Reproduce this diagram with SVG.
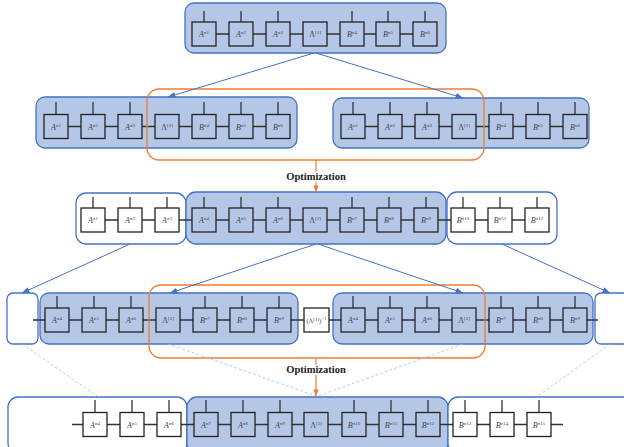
<svg xmlns="http://www.w3.org/2000/svg" width="624" height="447" viewBox="0 0 624 447">
<defs>
<style>
.bg{fill:#ffffff}
.blk{fill:#b4c7e7;stroke:#4472c4;stroke-width:1.3}
.wblk{fill:#ffffff;stroke:#4472c4;stroke-width:1.3}
.sel{fill:none;stroke:#ed7d31;stroke-width:1.3}
.bond{stroke:#333333;stroke-width:1.3;fill:none}
.nb{fill:#b4c7e7;stroke:#222222;stroke-width:1.3}
.nw{fill:#ffffff;stroke:#222222;stroke-width:1.3}
.lbl{font-family:"Liberation Serif",serif;font-size:8px;fill:#444444;text-anchor:middle}
.it{font-style:italic}
.sup{font-size:5px}
.arr{stroke:#4472c4;stroke-width:1;fill:none;marker-end:url(#ab)}
.oarr{stroke:#ed7d31;stroke-width:1.2;fill:none;marker-end:url(#ao)}
.dash{stroke:#9dc3e6;stroke-width:0.8;stroke-dasharray:3 2;fill:none}
.opt{font-family:"Liberation Serif",serif;font-weight:bold;font-size:10.5px;fill:#222222;text-anchor:middle;stroke:#ffffff;stroke-width:3;paint-order:stroke;stroke-linejoin:round}
</style>
<marker id="ab" viewBox="0 0 8 6" refX="7.5" refY="3" markerWidth="8" markerHeight="6" markerUnits="userSpaceOnUse" orient="auto"><path d="M0,0 L8,3 L0,6 Z" fill="#4472c4"/></marker>
<marker id="ao" viewBox="0 0 8 6" refX="7.5" refY="3" markerWidth="7" markerHeight="6" markerUnits="userSpaceOnUse" orient="auto"><path d="M0,0 L8,3 L0,6 Z" fill="#ed7d31"/></marker>
</defs>
<rect class="bg" x="0" y="0" width="624" height="447"/>

<!-- block backgrounds -->
<g id="blocks">
<rect class="blk" x="185" y="3" width="261" height="50" rx="9"/>
<rect class="blk" x="36" y="97" width="261" height="51" rx="9"/>
<rect class="blk" x="333" y="98" width="256" height="50" rx="9"/>
<rect class="wblk" x="76" y="193" width="110" height="51" rx="10"/>
<rect class="blk" x="186" y="192" width="260" height="52" rx="10"/>
<rect class="wblk" x="447" y="192" width="110" height="52" rx="10"/>
<rect class="wblk" x="7" y="293" width="31" height="51" rx="6"/>
<rect class="blk" x="40" y="293" width="258" height="51" rx="9"/>
<rect class="blk" x="333" y="293" width="260" height="51" rx="9"/>
<rect class="wblk" x="595" y="293" width="40" height="51" rx="6"/>
<rect class="wblk" x="8" y="397" width="179" height="56" rx="10"/>
<rect class="blk" x="187" y="397" width="261" height="56" rx="10"/>
<rect class="wblk" x="448" y="397" width="190" height="56" rx="10"/>
</g>

<!-- bonds and physical legs -->
<g id="bonds" class="bond">
<path d="M204,34 H425 M204,22 V11 M241,22 V11 M278,22 V11 M352,22 V11 M388,22 V11 M425,22 V11"/>
<path d="M56,126.5 H278 M56,114.5 V102 M93,114.5 V102 M130,114.5 V102 M204,114.5 V102 M241,114.5 V102 M278,114.5 V102"/>
<path d="M353,126.5 H575 M353,114.5 V102 M390,114.5 V102 M427,114.5 V102 M501,114.5 V102 M538,114.5 V102 M575,114.5 V102"/>
<path d="M93,220 H537 M93,208 V197 M130,208 V197 M167,208 V197 M204,208 V197 M241,208 V197 M278,208 V197 M352,208 V197 M389,208 V197 M426,208 V197 M463,208 V197 M500,208 V197 M537,208 V197"/>
<path d="M33,320 H598 M57,308 V296 M94,308 V296 M131,308 V296 M205,308 V296 M242,308 V296 M279,308 V296 M353,308 V296 M390,308 V296 M427,308 V296 M501,308 V296 M538,308 V296 M575,308 V296"/>
<path d="M72,424.5 H563 M95,412.5 V400 M132,412.5 V400 M169,412.5 V400 M206,412.5 V400 M243,412.5 V400 M280,412.5 V400 M354,412.5 V400 M391,412.5 V400 M428,412.5 V400 M465,412.5 V400 M502,412.5 V400 M539,412.5 V400"/>
</g>

<!-- row 1 -->
<g id="r1n1"><rect class="nb" x="192" y="22" width="24" height="24"/><text class="lbl" x="204" y="37"><tspan class="it">A</tspan><tspan class="sup" dy="-3">σ1</tspan></text></g>
<g id="r1n2"><rect class="nb" x="229" y="22" width="24" height="24"/><text class="lbl" x="241" y="37"><tspan class="it">A</tspan><tspan class="sup" dy="-3">σ2</tspan></text></g>
<g id="r1n3"><rect class="nb" x="266" y="22" width="24" height="24"/><text class="lbl" x="278" y="37"><tspan class="it">A</tspan><tspan class="sup" dy="-3">σ3</tspan></text></g>
<g id="r1n4"><rect class="nb" x="303" y="22" width="24" height="24"/><text class="lbl" x="315" y="37">Λ<tspan class="sup" dy="-3">[1]</tspan></text></g>
<g id="r1n5"><rect class="nb" x="340" y="22" width="24" height="24"/><text class="lbl" x="352" y="37"><tspan class="it">B</tspan><tspan class="sup" dy="-3">σ4</tspan></text></g>
<g id="r1n6"><rect class="nb" x="376" y="22" width="24" height="24"/><text class="lbl" x="388" y="37"><tspan class="it">B</tspan><tspan class="sup" dy="-3">σ5</tspan></text></g>
<g id="r1n7"><rect class="nb" x="413" y="22" width="24" height="24"/><text class="lbl" x="425" y="37"><tspan class="it">B</tspan><tspan class="sup" dy="-3">σ6</tspan></text></g>

<!-- row 2, left copy -->
<g id="r2an1"><rect class="nb" x="44" y="114.5" width="24" height="24"/><text class="lbl" x="56" y="129.5"><tspan class="it">A</tspan><tspan class="sup" dy="-3">σ1</tspan></text></g>
<g id="r2an2"><rect class="nb" x="81" y="114.5" width="24" height="24"/><text class="lbl" x="93" y="129.5"><tspan class="it">A</tspan><tspan class="sup" dy="-3">σ2</tspan></text></g>
<g id="r2an3"><rect class="nb" x="118" y="114.5" width="24" height="24"/><text class="lbl" x="130" y="129.5"><tspan class="it">A</tspan><tspan class="sup" dy="-3">σ3</tspan></text></g>
<g id="r2an4"><rect class="nb" x="155" y="114.5" width="24" height="24"/><text class="lbl" x="167" y="129.5">Λ<tspan class="sup" dy="-3">[1]</tspan></text></g>
<g id="r2an5"><rect class="nb" x="192" y="114.5" width="24" height="24"/><text class="lbl" x="204" y="129.5"><tspan class="it">B</tspan><tspan class="sup" dy="-3">σ4</tspan></text></g>
<g id="r2an6"><rect class="nb" x="229" y="114.5" width="24" height="24"/><text class="lbl" x="241" y="129.5"><tspan class="it">B</tspan><tspan class="sup" dy="-3">σ5</tspan></text></g>
<g id="r2an7"><rect class="nb" x="266" y="114.5" width="24" height="24"/><text class="lbl" x="278" y="129.5"><tspan class="it">B</tspan><tspan class="sup" dy="-3">σ6</tspan></text></g>

<!-- row 2, right copy -->
<g id="r2bn1"><rect class="nb" x="341" y="114.5" width="24" height="24"/><text class="lbl" x="353" y="129.5"><tspan class="it">A</tspan><tspan class="sup" dy="-3">σ1</tspan></text></g>
<g id="r2bn2"><rect class="nb" x="378" y="114.5" width="24" height="24"/><text class="lbl" x="390" y="129.5"><tspan class="it">A</tspan><tspan class="sup" dy="-3">σ2</tspan></text></g>
<g id="r2bn3"><rect class="nb" x="415" y="114.5" width="24" height="24"/><text class="lbl" x="427" y="129.5"><tspan class="it">A</tspan><tspan class="sup" dy="-3">σ3</tspan></text></g>
<g id="r2bn4"><rect class="nb" x="452" y="114.5" width="24" height="24"/><text class="lbl" x="464" y="129.5">Λ<tspan class="sup" dy="-3">[1]</tspan></text></g>
<g id="r2bn5"><rect class="nb" x="489" y="114.5" width="24" height="24"/><text class="lbl" x="501" y="129.5"><tspan class="it">B</tspan><tspan class="sup" dy="-3">σ4</tspan></text></g>
<g id="r2bn6"><rect class="nb" x="526" y="114.5" width="24" height="24"/><text class="lbl" x="538" y="129.5"><tspan class="it">B</tspan><tspan class="sup" dy="-3">σ5</tspan></text></g>
<g id="r2bn7"><rect class="nb" x="563" y="114.5" width="24" height="24"/><text class="lbl" x="575" y="129.5"><tspan class="it">B</tspan><tspan class="sup" dy="-3">σ6</tspan></text></g>

<!-- row 3 -->
<g id="r3n1"><rect class="nw" x="81" y="208" width="24" height="24"/><text class="lbl" x="93" y="223"><tspan class="it">A</tspan><tspan class="sup" dy="-3">σ1</tspan></text></g>
<g id="r3n2"><rect class="nw" x="118" y="208" width="24" height="24"/><text class="lbl" x="130" y="223"><tspan class="it">A</tspan><tspan class="sup" dy="-3">σ2</tspan></text></g>
<g id="r3n3"><rect class="nw" x="155" y="208" width="24" height="24"/><text class="lbl" x="167" y="223"><tspan class="it">A</tspan><tspan class="sup" dy="-3">σ3</tspan></text></g>
<g id="r3n4"><rect class="nb" x="192" y="208" width="24" height="24"/><text class="lbl" x="204" y="223"><tspan class="it">A</tspan><tspan class="sup" dy="-3">σ4</tspan></text></g>
<g id="r3n5"><rect class="nb" x="229" y="208" width="24" height="24"/><text class="lbl" x="241" y="223"><tspan class="it">A</tspan><tspan class="sup" dy="-3">σ5</tspan></text></g>
<g id="r3n6"><rect class="nb" x="266" y="208" width="24" height="24"/><text class="lbl" x="278" y="223"><tspan class="it">A</tspan><tspan class="sup" dy="-3">σ6</tspan></text></g>
<g id="r3n7"><rect class="nb" x="303" y="208" width="24" height="24"/><text class="lbl" x="315" y="223">Λ<tspan class="sup" dy="-3">[2]</tspan></text></g>
<g id="r3n8"><rect class="nb" x="340" y="208" width="24" height="24"/><text class="lbl" x="352" y="223"><tspan class="it">B</tspan><tspan class="sup" dy="-3">σ7</tspan></text></g>
<g id="r3n9"><rect class="nb" x="377" y="208" width="24" height="24"/><text class="lbl" x="389" y="223"><tspan class="it">B</tspan><tspan class="sup" dy="-3">σ8</tspan></text></g>
<g id="r3n10"><rect class="nb" x="414" y="208" width="24" height="24"/><text class="lbl" x="426" y="223"><tspan class="it">B</tspan><tspan class="sup" dy="-3">σ9</tspan></text></g>
<g id="r3n11"><rect class="nw" x="451" y="208" width="24" height="24"/><text class="lbl" x="463" y="223"><tspan class="it">B</tspan><tspan class="sup" dy="-3">σ10</tspan></text></g>
<g id="r3n12"><rect class="nw" x="488" y="208" width="24" height="24"/><text class="lbl" x="500" y="223"><tspan class="it">B</tspan><tspan class="sup" dy="-3">σ11</tspan></text></g>
<g id="r3n13"><rect class="nw" x="525" y="208" width="24" height="24"/><text class="lbl" x="537" y="223"><tspan class="it">B</tspan><tspan class="sup" dy="-3">σ12</tspan></text></g>

<!-- row 4 -->
<g id="r4n1"><rect class="nb" x="45" y="308" width="24" height="24"/><text class="lbl" x="57" y="323"><tspan class="it">A</tspan><tspan class="sup" dy="-3">σ4</tspan></text></g>
<g id="r4n2"><rect class="nb" x="82" y="308" width="24" height="24"/><text class="lbl" x="94" y="323"><tspan class="it">A</tspan><tspan class="sup" dy="-3">σ5</tspan></text></g>
<g id="r4n3"><rect class="nb" x="119" y="308" width="24" height="24"/><text class="lbl" x="131" y="323"><tspan class="it">A</tspan><tspan class="sup" dy="-3">σ6</tspan></text></g>
<g id="r4n4"><rect class="nb" x="156" y="308" width="24" height="24"/><text class="lbl" x="168" y="323">Λ<tspan class="sup" dy="-3">[2]</tspan></text></g>
<g id="r4n5"><rect class="nb" x="193" y="308" width="24" height="24"/><text class="lbl" x="205" y="323"><tspan class="it">B</tspan><tspan class="sup" dy="-3">σ7</tspan></text></g>
<g id="r4n6"><rect class="nb" x="230" y="308" width="24" height="24"/><text class="lbl" x="242" y="323"><tspan class="it">B</tspan><tspan class="sup" dy="-3">σ8</tspan></text></g>
<g id="r4n7"><rect class="nb" x="267" y="308" width="24" height="24"/><text class="lbl" x="279" y="323"><tspan class="it">B</tspan><tspan class="sup" dy="-3">σ9</tspan></text></g>
<g id="r4inv"><rect class="nw" x="304" y="308" width="25" height="24"/><text class="lbl" x="316.5" y="323" style="font-size:6.5px">(Λ<tspan class="sup" dy="-2.5">[1]</tspan><tspan dy="2.5">)</tspan><tspan class="sup" dy="-3">−1</tspan></text></g>
<g id="r4n8"><rect class="nb" x="341" y="308" width="24" height="24"/><text class="lbl" x="353" y="323"><tspan class="it">A</tspan><tspan class="sup" dy="-3">σ4</tspan></text></g>
<g id="r4n9"><rect class="nb" x="378" y="308" width="24" height="24"/><text class="lbl" x="390" y="323"><tspan class="it">A</tspan><tspan class="sup" dy="-3">σ5</tspan></text></g>
<g id="r4n10"><rect class="nb" x="415" y="308" width="24" height="24"/><text class="lbl" x="427" y="323"><tspan class="it">A</tspan><tspan class="sup" dy="-3">σ6</tspan></text></g>
<g id="r4n11"><rect class="nb" x="452" y="308" width="24" height="24"/><text class="lbl" x="464" y="323">Λ<tspan class="sup" dy="-3">[2]</tspan></text></g>
<g id="r4n12"><rect class="nb" x="489" y="308" width="24" height="24"/><text class="lbl" x="501" y="323"><tspan class="it">B</tspan><tspan class="sup" dy="-3">σ7</tspan></text></g>
<g id="r4n13"><rect class="nb" x="526" y="308" width="24" height="24"/><text class="lbl" x="538" y="323"><tspan class="it">B</tspan><tspan class="sup" dy="-3">σ8</tspan></text></g>
<g id="r4n14"><rect class="nb" x="563" y="308" width="24" height="24"/><text class="lbl" x="575" y="323"><tspan class="it">B</tspan><tspan class="sup" dy="-3">σ9</tspan></text></g>

<!-- row 5 -->
<g id="r5n1"><rect class="nw" x="83" y="412.5" width="24" height="24"/><text class="lbl" x="95" y="427.5"><tspan class="it">A</tspan><tspan class="sup" dy="-3">σ4</tspan></text></g>
<g id="r5n2"><rect class="nw" x="120" y="412.5" width="24" height="24"/><text class="lbl" x="132" y="427.5"><tspan class="it">A</tspan><tspan class="sup" dy="-3">σ5</tspan></text></g>
<g id="r5n3"><rect class="nw" x="157" y="412.5" width="24" height="24"/><text class="lbl" x="169" y="427.5"><tspan class="it">A</tspan><tspan class="sup" dy="-3">σ6</tspan></text></g>
<g id="r5n4"><rect class="nb" x="194" y="412.5" width="24" height="24"/><text class="lbl" x="206" y="427.5"><tspan class="it">A</tspan><tspan class="sup" dy="-3">σ7</tspan></text></g>
<g id="r5n5"><rect class="nb" x="231" y="412.5" width="24" height="24"/><text class="lbl" x="243" y="427.5"><tspan class="it">A</tspan><tspan class="sup" dy="-3">σ8</tspan></text></g>
<g id="r5n6"><rect class="nb" x="268" y="412.5" width="24" height="24"/><text class="lbl" x="280" y="427.5"><tspan class="it">A</tspan><tspan class="sup" dy="-3">σ9</tspan></text></g>
<g id="r5n7"><rect class="nb" x="304" y="412.5" width="24" height="24"/><text class="lbl" x="316" y="427.5">Λ<tspan class="sup" dy="-3">[3]</tspan></text></g>
<g id="r5n8"><rect class="nb" x="342" y="412.5" width="24" height="24"/><text class="lbl" x="354" y="427.5"><tspan class="it">B</tspan><tspan class="sup" dy="-3">σ10</tspan></text></g>
<g id="r5n9"><rect class="nb" x="379" y="412.5" width="24" height="24"/><text class="lbl" x="391" y="427.5"><tspan class="it">B</tspan><tspan class="sup" dy="-3">σ11</tspan></text></g>
<g id="r5n10"><rect class="nb" x="416" y="412.5" width="24" height="24"/><text class="lbl" x="428" y="427.5"><tspan class="it">B</tspan><tspan class="sup" dy="-3">σ12</tspan></text></g>
<g id="r5n11"><rect class="nw" x="453" y="412.5" width="24" height="24"/><text class="lbl" x="465" y="427.5"><tspan class="it">B</tspan><tspan class="sup" dy="-3">σ13</tspan></text></g>
<g id="r5n12"><rect class="nw" x="490" y="412.5" width="24" height="24"/><text class="lbl" x="502" y="427.5"><tspan class="it">B</tspan><tspan class="sup" dy="-3">σ14</tspan></text></g>
<g id="r5n13"><rect class="nw" x="527" y="412.5" width="24" height="24"/><text class="lbl" x="539" y="427.5"><tspan class="it">B</tspan><tspan class="sup" dy="-3">σ15</tspan></text></g>

<!-- selection frames and connectors -->
<g id="connectors">
<rect class="sel" x="147" y="89" width="337" height="71" rx="12"/>
<rect class="sel" x="149" y="285" width="336" height="73" rx="12"/>
<path class="arr" d="M314,53 L168,97"/>
<path class="arr" d="M316,53 L463,98"/>
<path class="arr" d="M130,244 L22,293"/>
<path class="arr" d="M316,244 L170,293"/>
<path class="arr" d="M318,244 L463,293"/>
<path class="arr" d="M502,244 L610,293"/>
<path class="dash" d="M22,344 L97,396"/>
<path class="dash" d="M168,344 L316,396"/>
<path class="dash" d="M463,344 L318,396"/>
<path class="dash" d="M610,344 L538,396"/>
<path class="oarr" d="M316,160 V192"/>
<path class="oarr" d="M316,358 V396"/>
</g>

<g id="labels">
<text class="opt" x="316" y="180">Optimization</text>
<text class="opt" x="316" y="373">Optimization</text>
</g>
</svg>
